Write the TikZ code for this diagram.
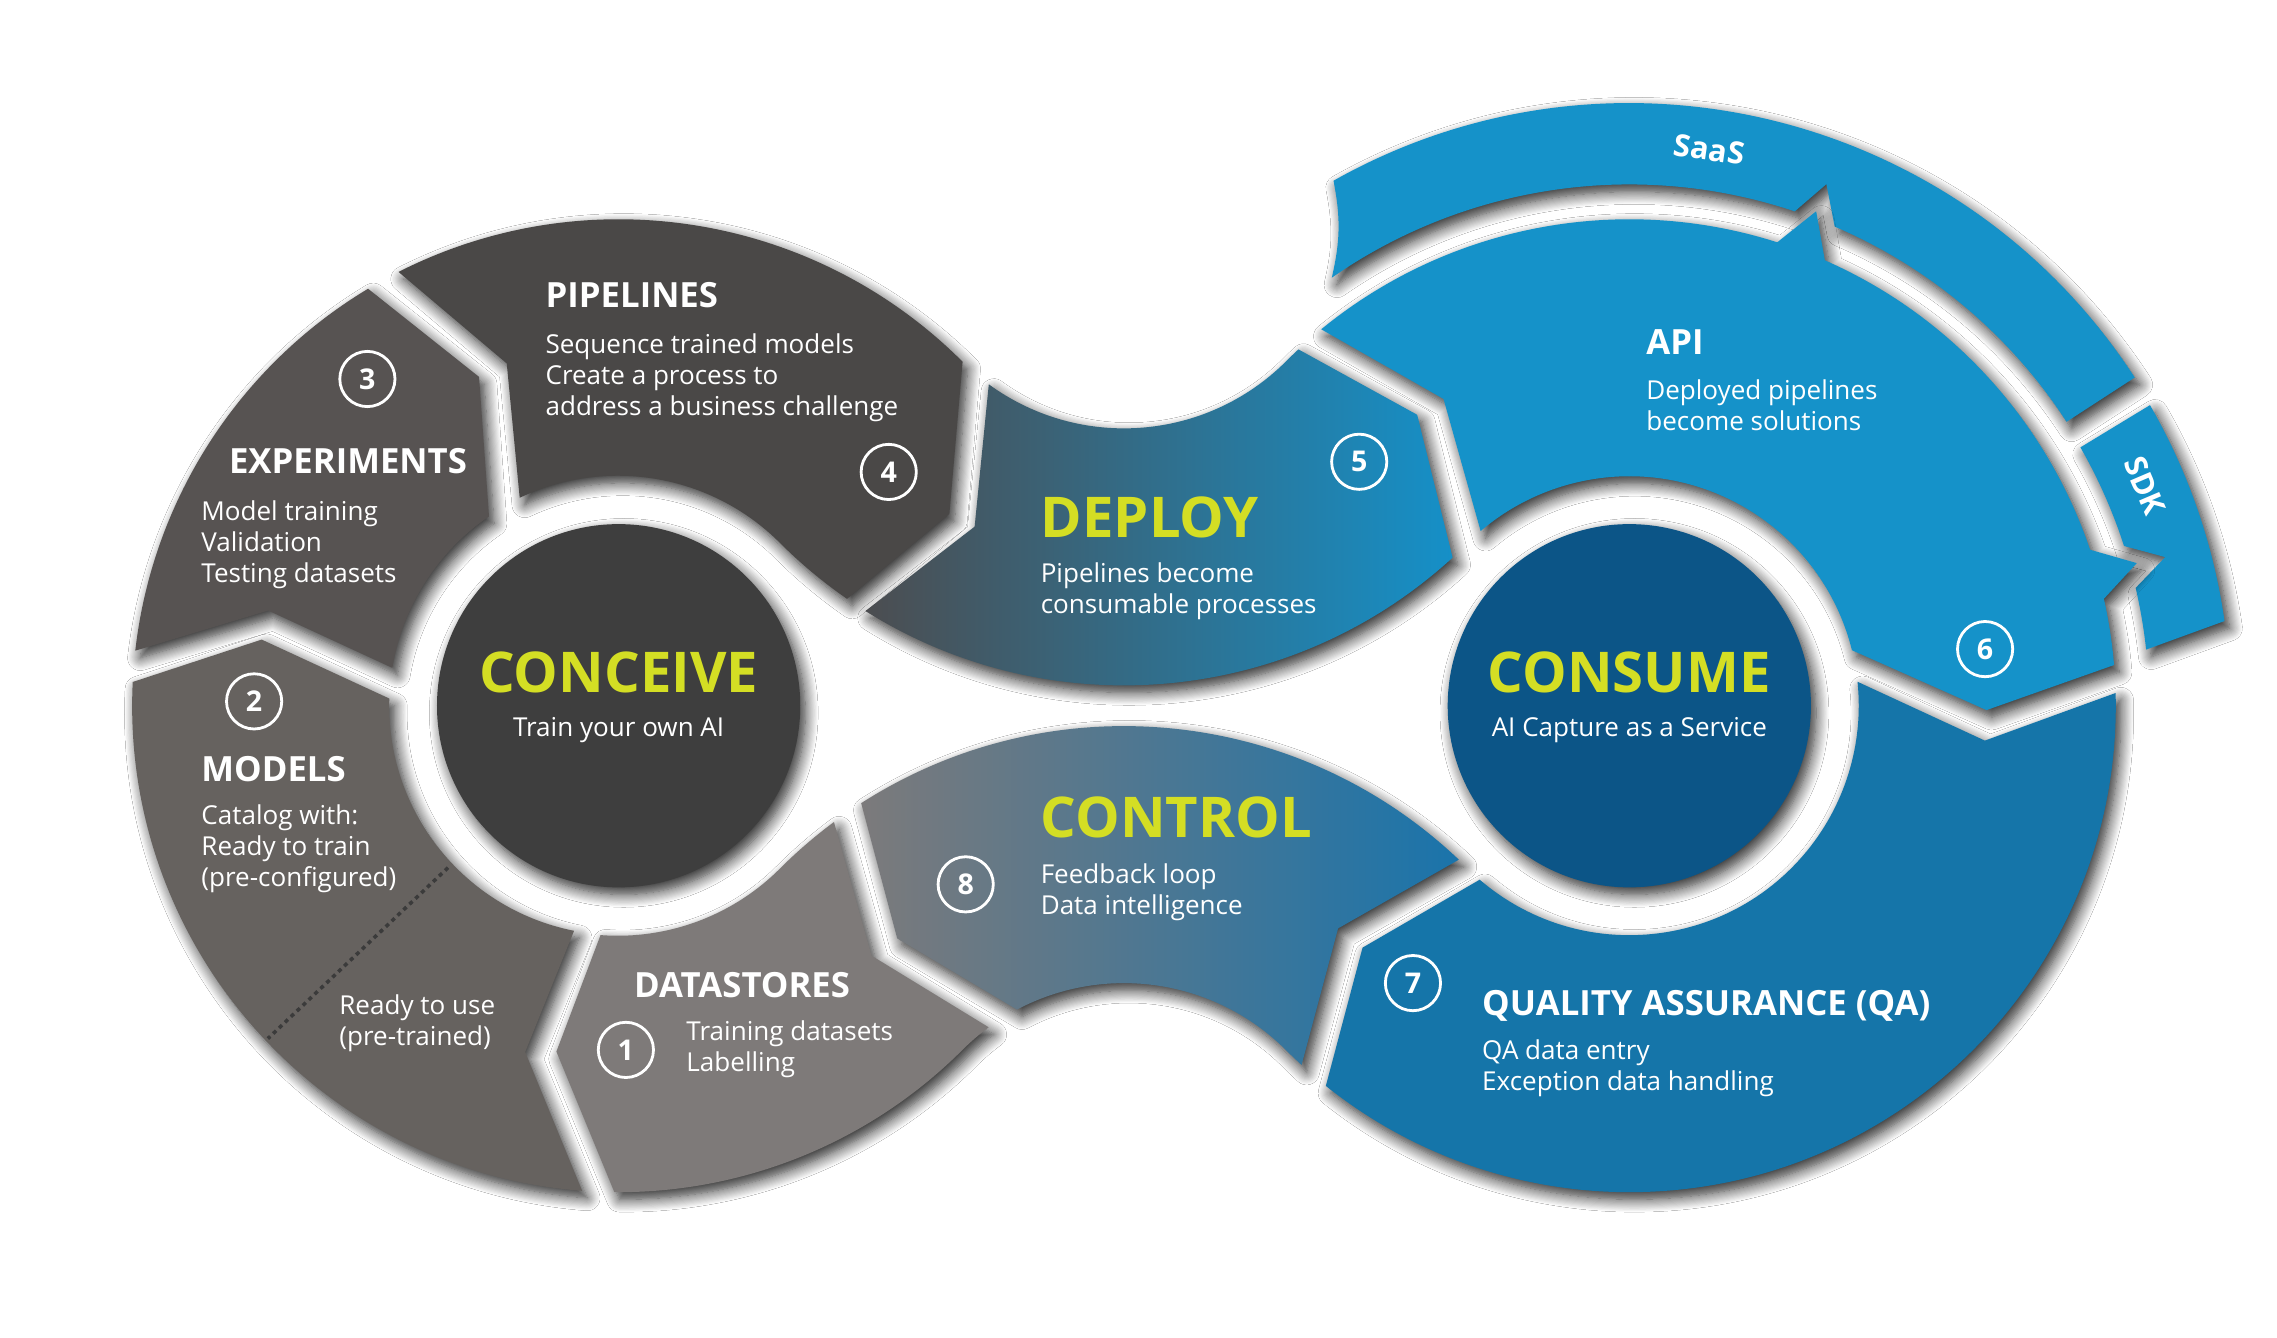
\documentclass[tikz,border=0pt]{standalone}
\usepackage{fontspec}
\setmainfont{Open Sans}
\usetikzlibrary{calc,positioning,shadows.blur}
\definecolor{pipeGray}{HTML}{4A4847}
\definecolor{expGray}{HTML}{575352}
\definecolor{modelGray}{HTML}{66625F}
\definecolor{dataGray}{HTML}{7E7A79}
\definecolor{hubGray}{HTML}{3E3E3E}
\definecolor{hubBlue}{HTML}{0C5587}
\definecolor{apiBlue}{HTML}{1592C9}
\definecolor{qaBlue}{HTML}{1575A9}
\definecolor{limeText}{HTML}{D4DE24}
\definecolor{dotGray}{HTML}{3B3B3B}
\definecolor{deployL}{HTML}{4C4D50}
\definecolor{deployM}{HTML}{4A6174}
\definecolor{deployR}{HTML}{1590C8}
\definecolor{controlL}{HTML}{7C7A7B}
\definecolor{controlM}{HTML}{637A8D}
\definecolor{controlR}{HTML}{1A74AB}
\begin{document}
\begin{tikzpicture}[x=0.01cm, y=0.01cm,
    seg/.style={blur shadow={shadow xshift=1pt, shadow yshift=-1.4pt, shadow blur radius=2.5pt, shadow blur steps=12, shadow opacity=85}},
    hub/.style={circle, minimum size=2.5cm, inner sep=0pt, seg},
    num/.style={circle, draw=white, line width=0.55pt, minimum size=0.38cm, inner sep=0pt, text=white, font=\bfseries\fontsize{5.6}{6}\selectfont},
    big/.style={text=limeText, inner sep=0pt, font=\bfseries\fontsize{11}{13}\selectfont},
    head/.style={text=white, inner sep=0pt, font=\bfseries\fontsize{6.8}{8}\selectfont},
    body/.style={text=white, inner sep=0pt, align=left, font=\fontsize{5.1}{6.1}\selectfont},
    tag/.style={text=white, inner sep=0pt, font=\bfseries\fontsize{6}{7}\selectfont}]

    \path[use as bounding box, fill=white] (0,0) rectangle (1568,921);

    \coordinate (L) at (426,435);
    \coordinate (R) at (1122,435);
    \coordinate (T) at (774,784);
    \coordinate (B) at (774,86);

    \path[seg, fill=apiBlue] ($(R)+(119.4:415)$) arc[start angle=119.4, end angle=33, radius=415]
        -- ($(R)+(33:359)$) arc[start angle=33, end angle=66.8, radius=359]
        -- ($(R)+(69.3:384)$) -- ($(R)+(71.5:359)$) arc[start angle=71.5, end angle=124.8, radius=359]
        to[bend right=12] ($(R)+(119.4:415)$) -- cycle;
    \path[seg, fill=apiBlue] ($(R)+(30:414)$) arc[start angle=30, end angle=8.1, radius=414]
        -- ($(R)+(6.2:358)$) arc[start angle=6.2, end angle=13.1, radius=358]
        -- ($(R)+(15.5:383)$) -- ($(R)+(17.9:358)$) arc[start angle=17.9, end angle=29.8, radius=358]
        -- cycle;

    \path[seg, fill=apiBlue] ($(R)+(129.3:335)$) arc[start angle=129.3, end angle=72.3, radius=335]
        -- ($(R)+(69.3:364)$) -- ($(R)+(66.3:335)$) arc[start angle=66.3, end angle=18.7, radius=335]
        -- ($(R)+(15.7:363)$) -- ($(R)+(12.7:335)$) arc[start angle=12.7, end angle=4.8, radius=335]
        -- ($(R)+(-0.7:246)$) -- ($(R)+(14:158)$) arc[start angle=14, end angle=130.4, radius=158]
        -- ($(R)+(121.2:247)$) -- cycle;
    \path[seg, fill=qaBlue] ($(R)+(1.5:335)$) arc[start angle=1.5, end angle=-128.6, radius=335]
        -- ($(R)+(-137.8:248)$) -- ($(R)+(-130.7:158)$) arc[start angle=-130.7, end angle=6, radius=158]
        -- ($(R)+(-5.6:246)$) -- cycle;

    \path[seg, left color=deployL, middle color=deployM, right color=deployR]
        ($(T)+(233.9:158)$) arc[start angle=233.9, end angle=315, radius=158]
        arc[start angle=135, end angle=133, radius=335]
        -- ($(R)+(126.1:248)$) -- ($(T)+(312.5:335)$) arc[start angle=312.5, end angle=237.9, radius=335]
        -- ($(T)+(245.5:248)$) -- cycle;
    \path[seg, left color=controlL, middle color=controlM, right color=controlR]
        ($(B)+(46.5:335)$) arc[start angle=46.5, end angle=122.7, radius=335]
        -- ($(B)+(129.6:245)$) -- ($(B)+(117.8:158)$) arc[start angle=117.8, end angle=45, radius=158]
        arc[start angle=225, end angle=227.5, radius=335]
        -- ($(B)+(53:245)$) -- cycle;

    \path[seg, fill=pipeGray] ($(L)+(116.9:335)$) arc[start angle=116.9, end angle=45, radius=335]
        -- ($(T)+(241:248)$) -- ($(T)+(235.3:335)$) arc[start angle=235.3, end angle=225, radius=335]
        arc[start angle=45, end angle=115.3, radius=158]
        -- ($(L)+(108.1:248)$) -- cycle;
    \path[seg, fill=expGray] ($(L)+(173.5:335)$) arc[start angle=173.5, end angle=121, radius=335]
        -- ($(L)+(113:246)$) -- ($(L)+(124.4:158)$) arc[start angle=124.4, end angle=170.5, radius=158]
        -- ($(L)+(164.8:250)$) -- cycle;
    \path[seg, fill=modelGray] ($(L)+(265.7:335)$) arc[start angle=265.7, end angle=177.2, radius=335]
        -- ($(L)+(169.5:250)$) -- ($(L)+(178.2:158)$) arc[start angle=178.2, end angle=258.8, radius=158]
        -- ($(L)+(254.9:247)$) -- cycle;
    \path[seg, fill=dataGray] ($(B)+(126.6:335)$) arc[start angle=126.6, end angle=135, radius=335]
        arc[start angle=315, end angle=265.7, radius=158]
        -- ($(L)+(259.8:242)$) -- ($(L)+(269.5:335)$) arc[start angle=269.5, end angle=315, radius=335]
        arc[start angle=135, end angle=126.4, radius=158]
        -- ($(B)+(134.5:248)$) -- cycle;

    \coordinate (splitIn) at ($(L)+(223.5:162)$);
    \coordinate (splitOut) at ($(L)+(223.5:333)$);
    \draw[dotGray, line width=0.7pt, dash pattern=on 0.8pt off 0.8pt] (splitIn) -- (splitOut);

    \node[hub, fill=hubGray] (conceive) at (L) {};
    \node[hub, fill=hubBlue] (consume) at (R) {};
    \node[big, anchor=base] (conceiveT) at (426,444) {CONCEIVE};
    \node[body, anchor=base] (conceiveS) at (426,414) {Train your own AI};
    \node[big, anchor=base] (consumeT) at (1122,444) {CONSUME};
    \node[body, anchor=base] (consumeS) at (1122,414) {AI Capture as a Service};

    \node[head, anchor=base west] (pipelines) at (375,709) {PIPELINES};
    \node[body, below right=0.17cm and 0cm of pipelines.base west] (pipelinesText) {Sequence trained models\\Create a process to\\address a business challenge};
    \node[head, anchor=base west] (experiments) at (157,595) {EXPERIMENTS};
    \node[body, below right=0.18cm and -0.19cm of experiments.base west] (experimentsText) {Model training\\Validation\\Testing datasets};
    \node[head, anchor=base west] (models) at (138,383) {MODELS};
    \node[body, below right=0.155cm and 0cm of models.base west] (modelsText) {Catalog with:\\Ready to train\\(pre-configured)};
    \node[body, anchor=north west] (modelsUse) at (233,237) {Ready to use\\(pre-trained)};
    \node[head, anchor=base west] (datastores) at (436,234) {DATASTORES};
    \node[body, below right=0.15cm and 0.36cm of datastores.base west] (datastoresText) {Training datasets\\Labelling};

    \node[big, anchor=base west] (deploy) at (716,551) {DEPLOY};
    \node[body, below right=0.17cm and 0cm of deploy.base west] (deployText) {Pipelines become\\consumable processes};
    \node[big, anchor=base west] (control) at (716,344) {CONTROL};
    \node[body, below right=0.17cm and 0cm of control.base west] (controlText) {Feedback loop\\Data intelligence};

    \node[head, anchor=base west] (api) at (1133,677) {API};
    \node[body, below right=0.17cm and 0cm of api.base west] (apiText) {Deployed pipelines\\become solutions};
    \node[head, anchor=base west] (qa) at (1020,222) {QUALITY ASSURANCE (QA)};
    \node[body, below right=0.16cm and 0cm of qa.base west] (qaText) {QA data entry\\Exception data handling};

    \node[tag, rotate=-8.2] (saas) at ($(R)+(81.8:387)$) {SaaS};
    \node[tag, rotate=-66.9] (sdk) at ($(R)+(23.1:386)$) {SDK};

    \node[num] (n1) at (431,198) {1};
    \node[num] (n2) at (175,438) {2};
    \node[num] (n3) at (253,660) {3};
    \node[num] (n4) at (612,596) {4};
    \node[num] (n5) at (936,603) {5};
    \node[num] (n6) at (1367,474) {6};
    \node[num] (n7) at (973,244) {7};
    \node[num] (n8) at (665,312) {8};
\end{tikzpicture}
\end{document}
